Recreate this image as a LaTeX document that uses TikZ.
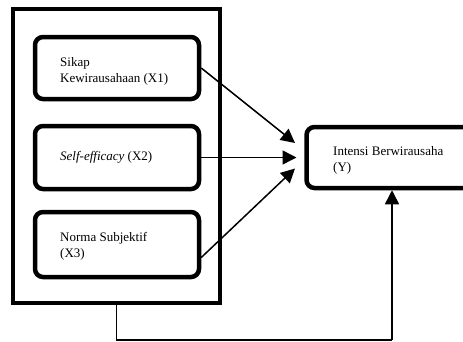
\documentclass[tikz,border=0pt]{standalone}
\usepackage{fontspec}
\setmainfont{Liberation Serif}
\usetikzlibrary{arrows.meta,calc}
\begin{document}
\begin{tikzpicture}[x=1pt,y=-1pt,
  box/.style={draw=black,line width=4.5pt,rounded corners=8pt,inner sep=0pt,fill=white},
  outerbox/.style={draw=black,line width=4.5pt,inner sep=0pt},
  lbl/.style={anchor=base west,inner sep=0pt,align=left,font=\fontsize{13}{16}\selectfont},
  arr/.style={line width=1.5pt,-{Triangle[length=14pt,width=14pt]}},
  link/.style={line width=1.2pt}]
\useasboundingbox (0,0) rectangle (463,341);
\clip (0,0) rectangle (463,341);
\node[outerbox,minimum width=207pt,minimum height=294pt] (outer) at (116.5,156) {};
\node[box,minimum width=164pt,minimum height=62pt] (x1) at (117,68) {};
\node[box,minimum width=164pt,minimum height=63pt] (x2) at (117,157.5) {};
\node[box,minimum width=164pt,minimum height=65pt] (x3) at (117,244.5) {};
\node[box,minimum width=168.5pt,minimum height=61pt] (y) at (390.75,157.5) {};
\node[lbl] (tx1) at (60,82) {Sikap\\Kewirausahaan (X1)};
\node[lbl] (tx2) at (60,160) {\textit{Self-efficacy} (X2)};
\node[lbl] (tx3) at (60,257) {Norma Subjektif\\(X3)};
\node[lbl] (ty) at (333,171.7) {Intensi Berwirausaha\\(Y)};
\coordinate (t1) at (295,143);
\coordinate (t2) at (296.5,157.5);
\coordinate (t3) at (295,168.5);
\coordinate (c) at (392,340);
\draw[arr] (x1.east) -- (t1);
\draw[arr] (x2.east) -- (t2);
\draw[arr] ($(x3.east)+(0,13)$) -- (t3);
\draw[link] (outer.south) |- (c);
\draw[arr] (c) -- (c |- y.south);
\end{tikzpicture}
\end{document}
